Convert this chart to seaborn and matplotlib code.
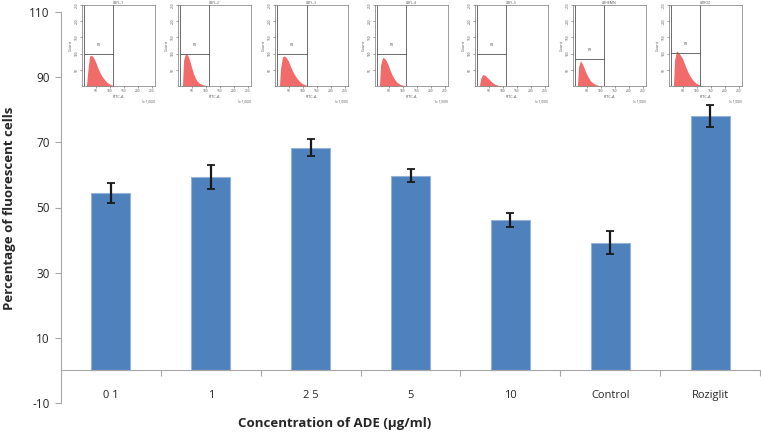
import matplotlib
matplotlib.use("Agg")
import matplotlib.pyplot as plt
import numpy as np
import seaborn as sns

# bar chart data
categories = ["0 1", "1", "2 5", "5", "10", "Control", "Roziglit"]
percent = [54.4, 59.3, 68.4, 59.8, 46.2, 39.2, 78.1]
percent_err = [3.1, 3.6, 2.7, 2.0, 2.1, 3.5, 3.4]

# flow cytometry insets (FITC-A histograms, counts at bin centres)
inset_titles = ["LBFL-1", "LBFL-2", "LBFL-3", "LBFL-4", "LBFL-5", "LBHEMN", "LBROZ"]
bin_centres = [16, 20, 27, 34, 41, 48, 55, 62, 69, 76, 83, 90, 97, 104, 111, 118, 125]
counts_01 = [0, 40, 92, 95, 88, 76, 60, 46, 34, 25, 17, 11, 7, 4, 2, 1, 0]
counts_1 = [0, 80, 100, 96, 82, 60, 40, 25, 15, 9, 6, 4, 2, 1, 1, 0, 0]
counts_25 = [0, 55, 90, 93, 87, 77, 62, 48, 36, 27, 19, 13, 8, 5, 3, 1, 0]
counts_5 = [0, 65, 88, 86, 77, 63, 47, 33, 23, 14, 9, 5, 3, 2, 1, 0, 0]
counts_10 = [0, 22, 35, 34, 29, 23, 17, 11, 7, 4, 2, 1, 1, 0, 0, 0, 0]
counts_ctrl = [0, 60, 78, 68, 53, 39, 27, 17, 11, 7, 4, 2, 1, 1, 0, 0, 0]
counts_rozi = [0, 80, 108, 103, 95, 86, 70, 55, 41, 30, 21, 14, 9, 5, 3, 1, 0]
gate_x = [112, 112, 115, 112, 112, 112, 112]
gate_y = [100, 100, 100, 100, 100, 82, 102]

sns.set_style("white")
plt.rcParams["font.family"] = ["Open Sans", "DejaVu Sans"]

W, H = 761, 434
fig = plt.figure(figsize=(W / 100, H / 100), dpi=100)
ax = fig.add_axes([61 / W, (H - 403) / H, 699 / W, 391 / H])

bar_col = "#4f81bd"
sns.barplot(x=categories, y=percent, color=bar_col, width=0.39, ax=ax, saturation=1,
            edgecolor="#95b3d7", linewidth=0.8, errorbar=None)
ax.errorbar(np.arange(len(categories)), percent, yerr=percent_err, fmt="none",
            ecolor="#1a1a1a", elinewidth=1.6, capsize=3, capthick=1.3)

ax.set_ylim(-10, 110)
ax.set_xlim(-0.5, len(categories) - 0.5)
ax.set_yticks([-10, 10, 30, 50, 70, 90, 110])
ax.set_yticklabels(["-10", "10", "30", "50", "70", "90", "110"])
ax.tick_params(axis="y", length=4, color="#a6a6a6", labelsize=8.5, pad=4, left=True)

for s in ["top", "right"]:
    ax.spines[s].set_visible(False)
ax.spines["left"].set_color("#a6a6a6")
ax.spines["bottom"].set_color("#a6a6a6")
ax.spines["bottom"].set_position(("data", 0))

ax.set_xticks(np.arange(len(categories)) + 0.5)
ax.set_xticklabels([])
ax.tick_params(axis="x", which="major", length=4, color="#a6a6a6", bottom=True, direction="out")
ax.set_xticks(np.arange(len(categories)), minor=True)
ax.set_xticklabels(categories, minor=True)
ax.tick_params(axis="x", which="minor", length=0, labelsize=8, pad=14)
ax.set_xlabel("")
ax.set_ylabel("")

fig.text(10 / W, (H - 208) / H, "Percentage of fluorescent cells", rotation=90,
         ha="center", va="center", fontsize=9.5, fontweight="bold")
fig.text(335 / W, (H - 424) / H, "Concentration of ADE (µg/ml)",
         ha="center", va="center", fontsize=9.5, fontweight="bold")

all_counts = [counts_01, counts_1, counts_25, counts_5, counts_10, counts_ctrl, counts_rozi]
inset_left = [82, 178, 275, 375, 475, 573, 669]
for i, counts in enumerate(all_counts):
    iax = fig.add_axes([inset_left[i] / W, (H - 86) / H, 73 / W, 81 / H])
    iax.fill_between(bin_centres, counts, color="#f26b6b", linewidth=0)
    iax.set_xlim(0, 262)
    iax.set_ylim(0, 250)
    iax.axvline(gate_x[i], color="#555555", lw=0.6)
    iax.plot([8, gate_x[i]], [gate_y[i], gate_y[i]], color="#555555", lw=0.6)
    iax.axvline(8, color="#555555", lw=0.6)
    iax.text(gate_x[i] / 2 + 4, gate_y[i] + 25, "P3", fontsize=2.5, ha="center", color="#444444")
    iax.set_title(inset_titles[i], fontsize=2.5, pad=1, color="#555555")
    iax.set_xticks([50, 100, 150, 200, 250])
    iax.set_xticklabels(["50", "100", "150", "200", "250"])
    iax.set_yticks([50, 100, 150, 200, 250])
    iax.set_yticklabels(["50", "100", "150", "200", "250"], rotation=90, va="center")
    iax.tick_params(labelsize=2.3, length=1.5, width=0.4, pad=1, colors="#555555",
                    bottom=True, left=True)
    iax.set_xlabel("FITC-A", fontsize=2.8, labelpad=1, color="#555555")
    iax.set_ylabel("Count", fontsize=2.8, labelpad=1, color="#555555")
    iax.text(262, -40, "(x 1,000)", fontsize=2.3, ha="right", va="top", color="#555555")
    for s in iax.spines.values():
        s.set_linewidth(0.5)
        s.set_color("#777777")
    iax.set_facecolor("white")

fig.savefig("out.png", dpi=100)
